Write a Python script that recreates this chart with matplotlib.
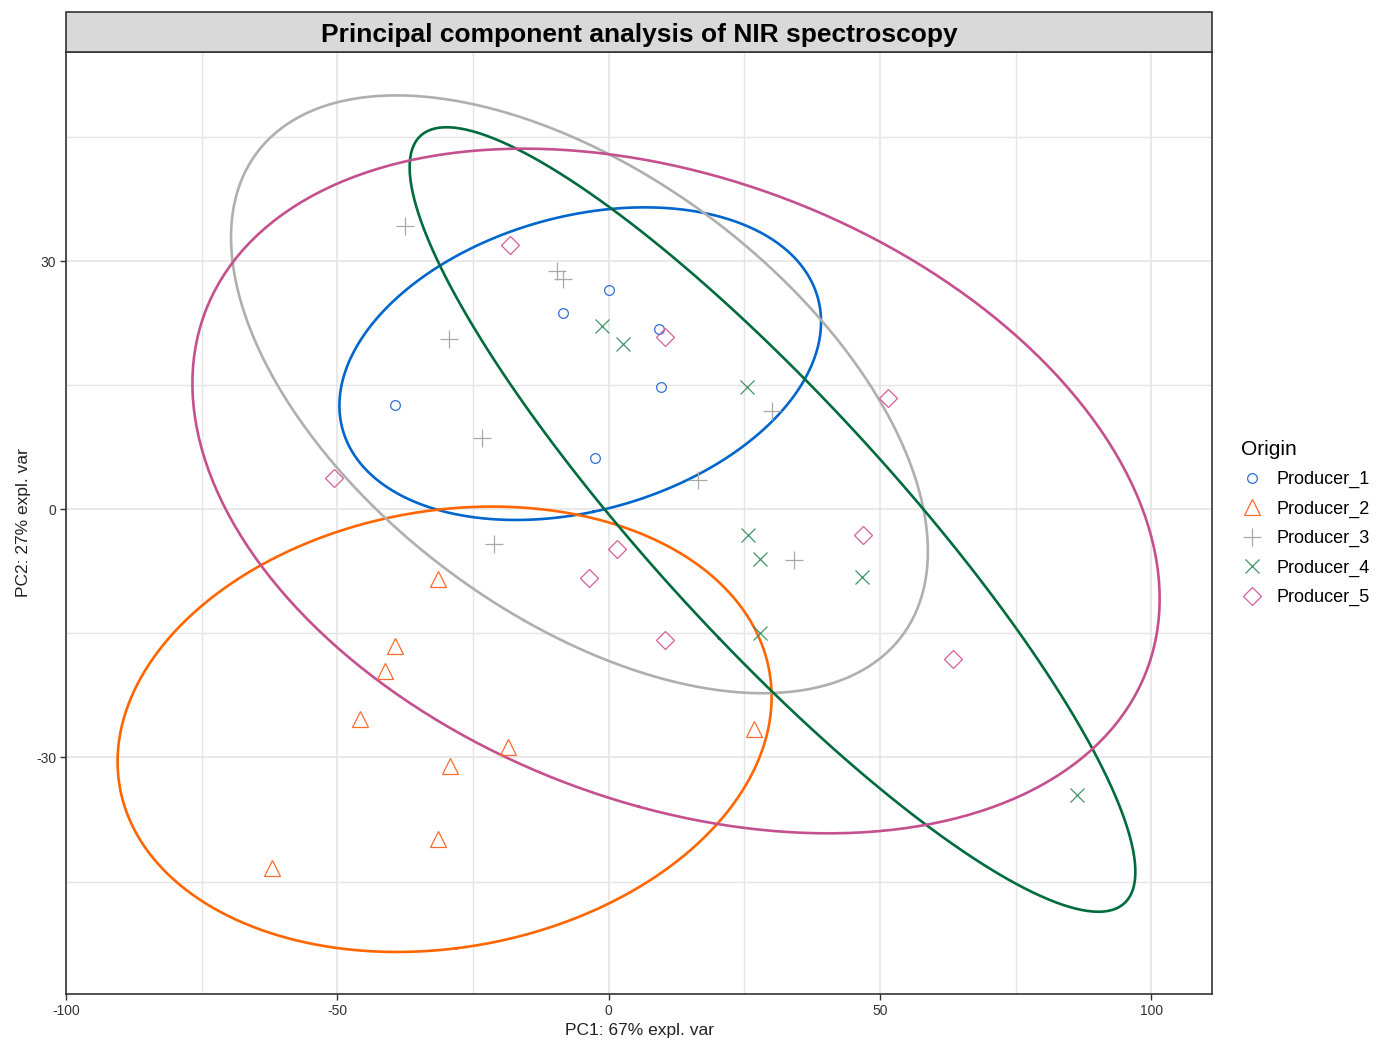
import numpy as np
import matplotlib
matplotlib.use("Agg")
import matplotlib.pyplot as plt
from matplotlib.patches import Rectangle

plt.rcParams['font.family'] = ['Liberation Sans', 'DejaVu Sans']
plt.rcParams['axes.unicode_minus'] = False

# PCA scores per producer (PC1, PC2)
p1_x = [-39.4, -8.4, 0.1, 9.2, 9.7, -2.6]
p1_y = [12.6, 23.8, 26.5, 21.8, 14.8, 6.2]

p2_x = [-31.4, -39.3, -41.3, -45.8, -18.5, -29.2, -31.4, -62.0, 26.8]
p2_y = [-8.4, -16.5, -19.5, -25.4, -28.7, -31.0, -39.9, -43.4, -26.5]

p3_x = [-37.5, -9.5, -8.4, -29.4, -23.3, -21.1, 16.5, 30.2, 34.1]
p3_y = [34.3, 28.8, 27.8, 20.6, 8.6, -4.2, 3.5, 11.9, -6.1]

p4_x = [-1.2, 2.7, 25.5, 25.7, 27.9, 46.7, 27.9, 86.4]
p4_y = [22.2, 20.0, 14.8, -3.1, -6.0, -8.2, -15.0, -34.5]

p5_x = [-18.2, 10.4, 51.4, -50.6, 1.6, -3.6, 46.9, 10.4, 63.5]
p5_y = [32.0, 20.8, 13.5, 3.8, -4.8, -8.3, -3.1, -15.8, -18.1]

groups = ["Producer_1", "Producer_2", "Producer_3", "Producer_4", "Producer_5"]
xs = [p1_x, p2_x, p3_x, p4_x, p5_x]
ys = [p1_y, p2_y, p3_y, p4_y, p5_y]

line_cols = ["#0066CC", "#FF6600", "#AFAFAF", "#006B3C", "#C4508D"]
pt_cols = ["#2F6FD6", "#FF6A2E", "#A8A8A8", "#3F9468", "#D4609B"]
markers = ["o", "^", "+", "x", "D"]
msizes = [7, 11, 13, 10, 9.5]


def conf_ellipse(x, y, level=0.95, n=200):
    pts = np.column_stack([x, y])
    centre = pts.mean(axis=0)
    cov = np.cov(pts, rowvar=False)
    t = np.sqrt(-2 * np.log(1 - level))  # chi-square quantile, 2 df
    vals, vecs = np.linalg.eigh(cov)
    a = np.linspace(0, 2 * np.pi, n)
    circ = np.vstack([np.cos(a), np.sin(a)])
    e = vecs @ (np.sqrt(vals)[:, None] * circ) * t
    return centre[0] + e[0], centre[1] + e[1]


fig = plt.figure(figsize=(13.76, 10.4), dpi=100)
ax = fig.add_axes([0.048, 0.0442, 0.8328, 0.9058])

for i, g in enumerate(groups):
    ex, ey = conf_ellipse(xs[i], ys[i])
    ax.plot(ex, ey, color=line_cols[i], lw=1.9, zorder=2)

for i, g in enumerate(groups):
    ax.plot(xs[i], ys[i], linestyle="none", marker=markers[i], ms=msizes[i],
            mfc="none", mec=pt_cols[i], mew=0.9, label=g, zorder=3)

ax.set_xlim(-100, 111.2)
ax.set_ylim(-58.6, 55.3)
ax.set_xticks([-100, -50, 0, 50, 100])
ax.set_xticks([-75, -25, 25, 75], minor=True)
ax.set_yticks([-30, 0, 30])
ax.set_yticks([-45, -15, 15, 45], minor=True)
ax.grid(True, which="major", color="#E5E5E5", lw=1.2, zorder=0)
ax.grid(True, which="minor", color="#E5E5E5", lw=1.0, zorder=0)
ax.set_axisbelow(True)
ax.tick_params(which="minor", length=0)
ax.tick_params(which="major", length=4, width=1, color="#333333",
               labelsize=10, labelcolor="#333333", pad=3)
for s in ax.spines.values():
    s.set_color("#333333")
    s.set_linewidth(1.2)

ax.set_xlabel("PC1: 67% expl. var", fontsize=12.5, color="#222222", labelpad=4)
ax.set_ylabel("PC2: 27% expl. var", fontsize=12.5, color="#222222", labelpad=4)

# title strip above the panel
strip = Rectangle((0.048, 0.95), 0.8328, 0.0385, transform=fig.transFigure,
                  facecolor="#D9D9D9", edgecolor="#333333", lw=1.2)
fig.add_artist(strip)
fig.text(0.048 + 0.8328 / 2, 0.9665, "Principal component analysis of NIR spectroscopy",
         ha="center", va="center", fontsize=19, fontweight="bold", color="black")

leg = ax.legend(title="Origin", loc="upper left", bbox_to_anchor=(0.902, 0.577),
                bbox_transform=fig.transFigure, frameon=False, fontsize=13,
                title_fontsize=15, labelspacing=0.68, handletextpad=0.75,
                handlelength=1.2, borderpad=0, borderaxespad=0)
leg._legend_box.align = "left"

fig.savefig("out.png", dpi=100)
